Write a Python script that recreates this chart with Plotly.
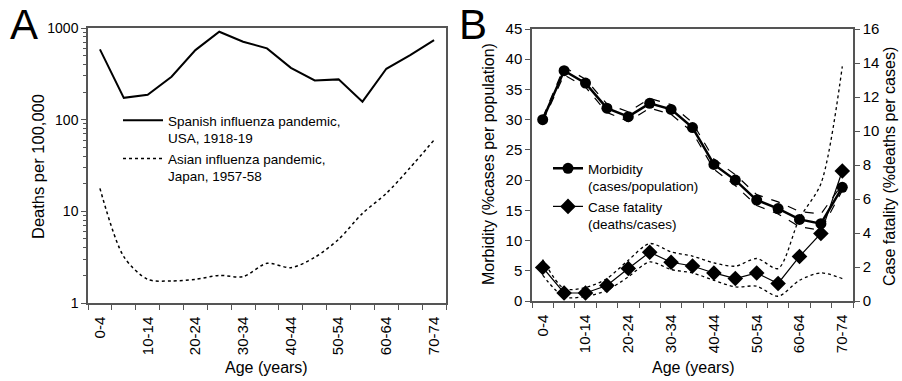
import plotly.graph_objects as go

ages = ["0-4", "5-9", "10-14", "15-19", "20-24", "25-29", "30-34", "35-39",
        "40-44", "45-49", "50-54", "55-59", "60-64", "65-69", "70-74"]

spanish_usa = [585, 173, 187, 294, 574, 910, 708, 599, 368, 268, 275, 157, 359, 506, 738]
asian_japan = [17.8, 3.2, 1.81, 1.74, 1.81, 2.0, 1.94, 2.71, 2.43, 3.15, 4.95, 9.5, 15.7, 30, 60]

morbidity = [30.0, 38.1, 36.05, 31.9, 30.5, 32.7, 31.7, 28.7, 22.6, 20.0, 16.7, 15.3, 13.5, 12.8, 18.8]
morbidity_hi = [30.3, 38.7, 36.7, 32.6, 31.3, 33.5, 32.5, 29.5, 23.5, 20.9, 17.6, 16.4, 14.8, 14.4, 19.3]
morbidity_lo = [29.7, 37.4, 35.4, 31.2, 29.7, 31.9, 30.9, 27.9, 21.8, 19.1, 15.8, 14.4, 12.3, 11.7, 18.3]

fatality = [1.97, 0.47, 0.47, 0.91, 1.91, 2.87, 2.28, 2.06, 1.65, 1.32, 1.65, 1.03, 2.62, 3.97, 7.65]
fatality_hi = [2.44, 0.73, 0.79, 1.32, 2.4, 3.38, 2.89, 2.64, 2.24, 2.05, 2.5, 1.91, 4.86, 6.9, 13.8]
fatality_lo = [1.52, 0.24, 0.27, 0.63, 1.42, 2.3, 1.85, 1.65, 1.22, 0.83, 0.87, 0.28, 1.22, 1.65, 1.32]

x = list(range(len(ages)))
tickvals = x[::2]
ticktext = ages[::2]

FONT = "Liberation Sans"
AXC = "#555555"

fig = go.Figure()

# Panel A
fig.add_trace(go.Scatter(x=x, y=spanish_usa, mode="lines",
                         line=dict(color="black", width=2),
                         name="Spanish influenza pandemic,<br>USA, 1918-19",
                         xaxis="x", yaxis="y", legend="legend"))
fig.add_trace(go.Scatter(x=x, y=asian_japan, mode="lines",
                         line=dict(color="black", width=1.5, dash="dot", shape="spline", smoothing=0.8),
                         name="Asian influenza pandemic,<br>Japan, 1957-58",
                         xaxis="x", yaxis="y", legend="legend"))

# Panel B - morbidity bands
for band in (morbidity_hi, morbidity_lo):
    fig.add_trace(go.Scatter(x=x, y=band, mode="lines",
                             line=dict(color="black", width=1.2, dash="dash"),
                             showlegend=False, xaxis="x2", yaxis="y2"))
# fatality bands
for band in (fatality_hi, fatality_lo):
    fig.add_trace(go.Scatter(x=x, y=band, mode="lines",
                             line=dict(color="black", width=1.3, dash="dot", shape="spline", smoothing=0.8),
                             showlegend=False, xaxis="x2", yaxis="y3"))

fig.add_trace(go.Scatter(x=x, y=morbidity, mode="lines+markers",
                         line=dict(color="black", width=2.5),
                         marker=dict(symbol="circle", size=11, color="black"),
                         name="Morbidity<br>(cases/population)",
                         xaxis="x2", yaxis="y2", legend="legend2"))
fig.add_trace(go.Scatter(x=x, y=fatality, mode="lines+markers",
                         line=dict(color="black", width=1.2),
                         marker=dict(symbol="diamond", size=12, color="black"),
                         name="Case fatality<br>(deaths/cases)",
                         xaxis="x2", yaxis="y3", legend="legend2"))

W, H = 902, 381
def px_x(p):
    return p / W
def px_y(p):
    return 1 - p / H

common_x = dict(range=[-0.5, len(ages) - 0.5], tickmode="array", tickvals=tickvals,
                ticktext=ticktext, tickangle=-90, ticks="",
                minor=dict(tickmode="linear", tick0=-0.5, dtick=1, ticks="outside",
                           ticklen=5, tickcolor=AXC, tickwidth=1),
                showline=True, linecolor=AXC, linewidth=1.5, mirror=True,
                showgrid=False, zeroline=False, automargin=False,
                tickfont=dict(family=FONT, size=15, color="black"), ticklabelstandoff=6)

fig.update_layout(
    width=W, height=H,
    margin=dict(l=0, r=0, t=0, b=0),
    paper_bgcolor="white", plot_bgcolor="white",
    font=dict(family=FONT, color="black"),
    xaxis=dict(domain=[px_x(88), px_x(446)], anchor="y", **common_x),
    yaxis=dict(domain=[px_y(303), px_y(28)], type="log", range=[0, 3], anchor="x",
               tickvals=[1, 10, 100, 1000], ticktext=["1", "10", "100", "1000"],
               ticks="outside", ticklen=5, tickcolor=AXC,
               minor=dict(ticks="outside", ticklen=3, tickcolor=AXC, dtick="D1", showgrid=False),
               showline=True, linecolor=AXC, linewidth=1.5, mirror=True,
               showgrid=False, zeroline=False, automargin=False,
               tickfont=dict(family=FONT, size=14, color="black")),
    xaxis2=dict(domain=[px_x(532), px_x(853)], anchor="y2", **common_x),
    yaxis2=dict(domain=[px_y(301), px_y(29)], range=[0, 45], dtick=5, anchor="x2",
                ticks="outside", ticklen=5, tickcolor=AXC,
                showline=True, linecolor=AXC, linewidth=1.5, mirror=True,
                showgrid=False, zeroline=False, automargin=False,
                tickfont=dict(family=FONT, size=15, color="black")),
    yaxis3=dict(range=[0, 16], dtick=2, overlaying="y2", side="right", anchor="x2",
                ticks="outside", ticklen=5, tickcolor=AXC,
                showline=True, linecolor=AXC, linewidth=1.5,
                showgrid=False, zeroline=False, automargin=False,
                tickfont=dict(family=FONT, size=15, color="black")),
    legend=dict(x=px_x(118), y=px_y(105), xanchor="left", yanchor="top",
                bgcolor="rgba(0,0,0,0)", font=dict(family=FONT, size=13.5, color="black"),
                itemwidth=40, tracegroupgap=6, valign="top"),
    legend2=dict(x=px_x(548), y=px_y(153), xanchor="left", yanchor="top",
                 bgcolor="rgba(0,0,0,0)", font=dict(family=FONT, size=13.5, color="black"),
                 itemwidth=30, tracegroupgap=4, valign="top"),
    showlegend=True,
)

annots = [
    dict(text="A", x=px_x(24), y=px_y(24), size=42),
    dict(text="B", x=px_x(473), y=px_y(24), size=42),
    dict(text="Deaths per 100,000", x=px_x(38), y=px_y(167), textangle=-90, size=16.5),
    dict(text="Age (years)", x=px_x(266), y=px_y(367), size=16),
    dict(text="Age (years)", x=px_x(693), y=px_y(367), size=16),
    dict(text="Morbidity (%cases per population)", x=px_x(488), y=px_y(164), textangle=-90, size=16),
    dict(text="Case fatality (%deaths per cases)", x=px_x(889), y=px_y(167), textangle=-90, size=16),
]
for a in annots:
    size = a.pop("size")
    fig.add_annotation(xref="paper", yref="paper", showarrow=False,
                       xanchor="center", yanchor="middle",
                       font=dict(family=FONT, color="black", size=size), **a)

fig.write_html("out.html", config={"displayModeBar": False},
               post_script="document.body.style.margin='0';document.body.style.overflow='hidden';")
